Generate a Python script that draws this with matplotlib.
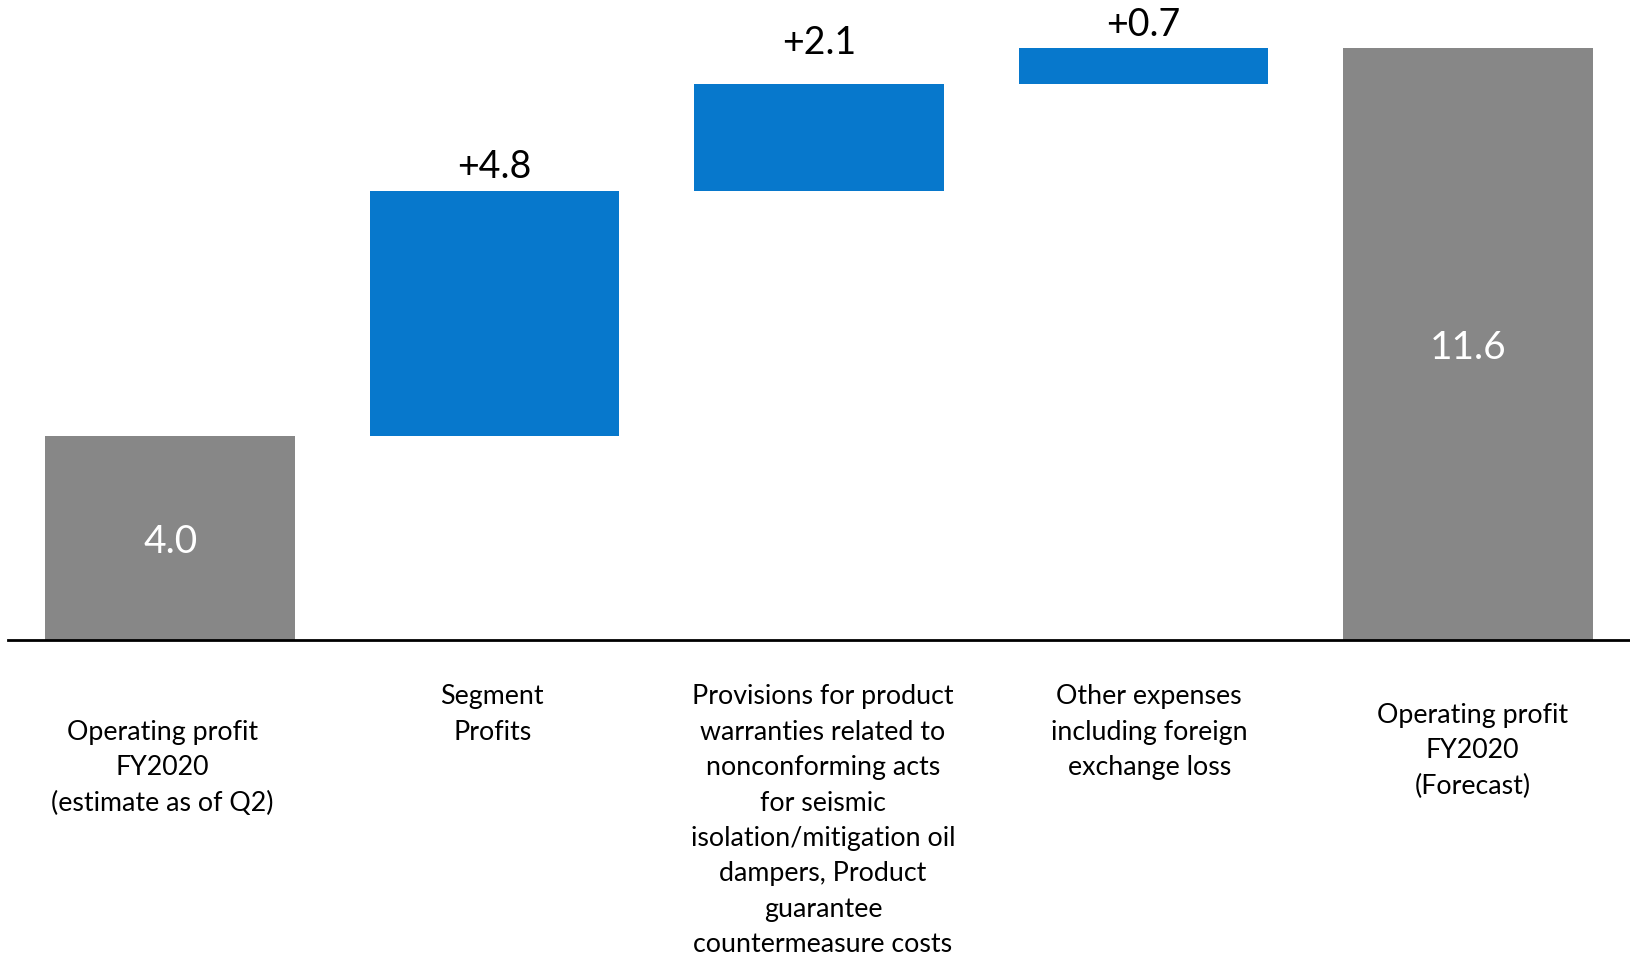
import matplotlib
matplotlib.use("Agg")
import matplotlib.pyplot as plt
import matplotlib.transforms as mtransforms
import numpy as np

# ---- data ----
categories = [
    "Operating profit\nFY2020\n(estimate as of Q2)",
    "Segment\nProfits",
    "Provisions for product\nwarranties related to\nnonconforming acts\nfor seismic\nisolation/mitigation oil\ndampers, Product\nguarantee\ncountermeasure costs",
    "Other expenses\nincluding foreign\nexchange loss",
    "Operating profit\nFY2020\n(Forecast)",
]
start_value = 4.0
changes = [4.8, 2.1, 0.7]
end_value = 11.6
change_labels = ["+4.8", "+2.1", "+0.7"]
total_labels = ["4.0", "11.6"]

# ---- styling ----
BLUE = "#0778CC"
GRAY = "#878787"
FONT = "Lato"

W, H = 1630, 954
BASE_PX = 641.0
PX_PER_UNIT = 51.0
fig = plt.figure(figsize=(W / 100, H / 100), dpi=100)
ax = fig.add_axes([8 / W, 1 - BASE_PX / H, 1 - 8 / W, BASE_PX / H])

heights = [start_value] + changes + [end_value]
bottoms = [0.0] + list(start_value + np.cumsum([0] + changes[:-1])) + [0.0]
colors = [GRAY] + [BLUE] * len(changes) + [GRAY]
x = np.arange(len(heights))

ax.bar(x, heights, bottom=bottoms, width=0.77, color=colors, edgecolor="none", zorder=2)

ax.set_xlim(-0.5, 4.5)
ax.set_ylim(0, BASE_PX / PX_PER_UNIT)
for s in ["top", "left", "right"]:
    ax.spines[s].set_visible(False)
ax.spines["bottom"].set_color("black")
ax.spines["bottom"].set_linewidth(2.0)
ax.set_xticks([])
ax.set_yticks([])

# change labels above blue bars
label_offsets_px = [25, 42, 24]
for i, (lab, off) in enumerate(zip(change_labels, label_offsets_px)):
    xi = i + 1
    top = bottoms[xi] + heights[xi]
    ax.annotate(lab, (xi, top), xytext=(0, off * 0.72), textcoords="offset points",
                ha="center", va="center", fontsize=27, family=FONT, color="black")

# total labels inside gray bars
for xi, lab in zip([0, len(heights) - 1], total_labels):
    ax.annotate(lab, (xi, bottoms[xi] + heights[xi] / 2), xytext=(0, -3 * 0.72),
                textcoords="offset points", ha="center", va="center",
                fontsize=28, family=FONT, color="white")

# category labels below axis
trans = mtransforms.blended_transform_factory(ax.transData, fig.transFigure)
x_shift = [-0.024, -0.007, 0.012, 0.018, 0.015]
first_line_px = [729.8, 694.4, 694.4, 694.4, 713.1]
for i, (cat, dx, yp) in enumerate(zip(categories, x_shift, first_line_px)):
    ax.text(i + dx, 1 - (yp - 10) / H, cat, transform=trans, ha="center", va="top",
            fontsize=19.3, family=FONT, color="black", linespacing=1.52, clip_on=False)

fig.savefig("out.png", dpi=100)
